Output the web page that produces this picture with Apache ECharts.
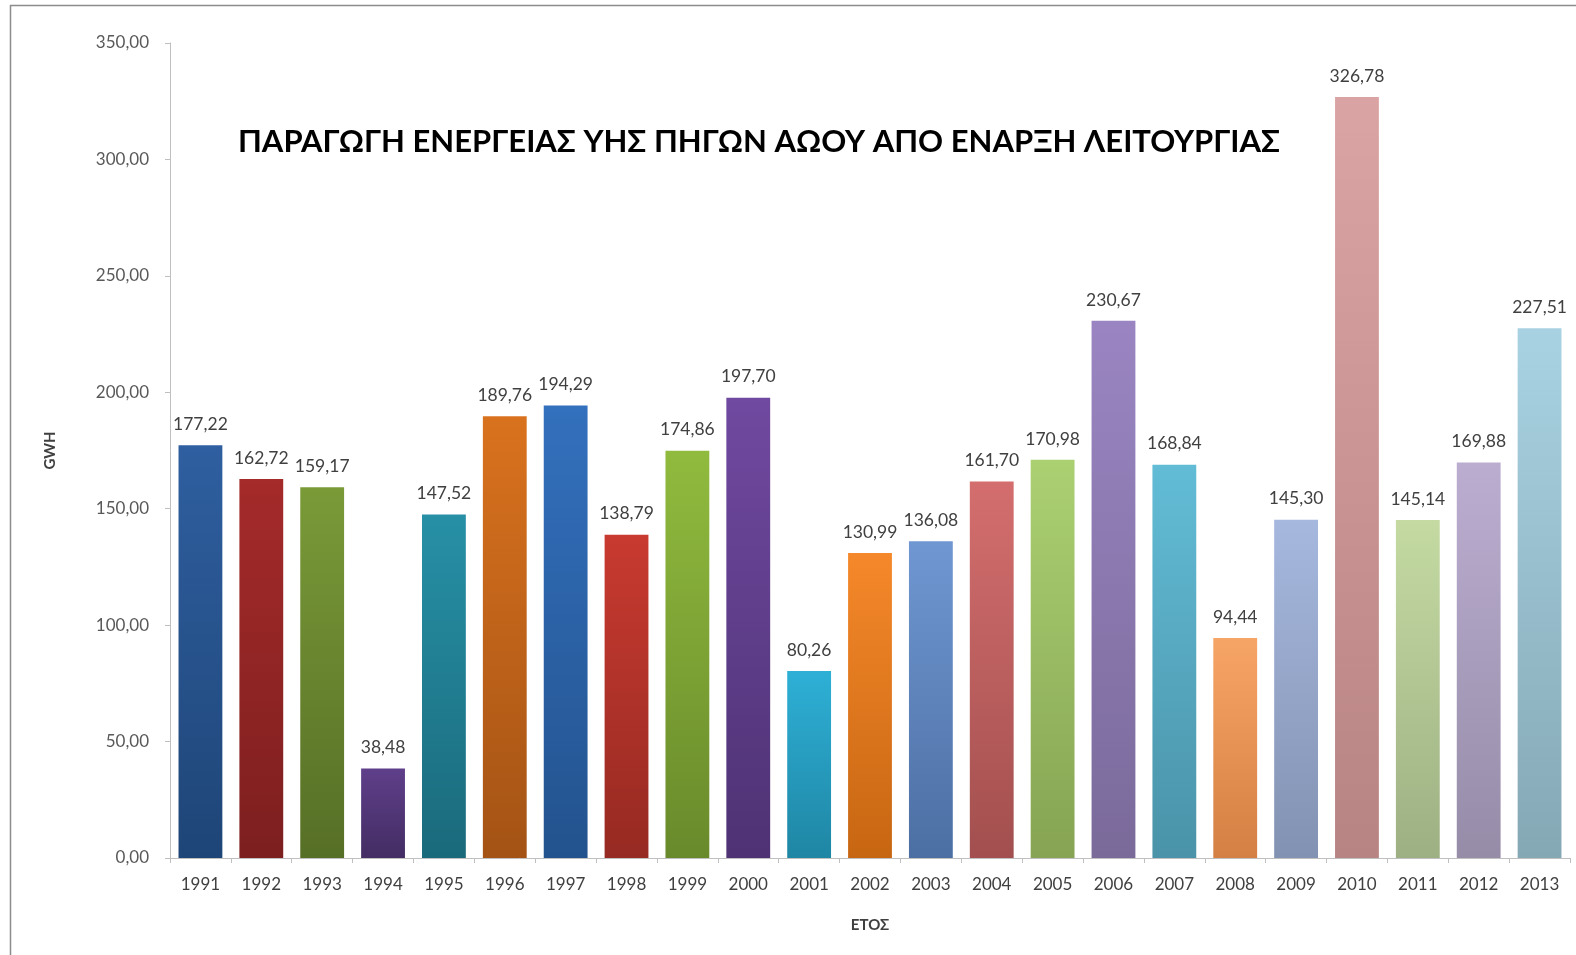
<!DOCTYPE html>
<html>
<head>
<meta charset="utf-8">
<script src="https://cdn.jsdelivr.net/npm/echarts@6/dist/echarts.min.js"></script>
<style>
html,body{margin:0;padding:0;background:#fff;}
#chart{width:1576px;height:955px;}
</style>
</head>
<body>
<div id="chart"></div>
<script>
const years = ['1991','1992','1993','1994','1995','1996','1997','1998','1999','2000','2001','2002','2003','2004','2005','2006','2007','2008','2009','2010','2011','2012','2013'];
const values = [177.22,162.72,159.17,38.48,147.52,189.76,194.29,138.79,174.86,197.70,80.26,130.99,136.08,161.70,170.98,230.67,168.84,94.44,145.30,326.78,145.14,169.88,227.51];
const topColors = ['#2f5fa0','#a52a2a','#7a9a38','#5f3f8a','#2790a6','#d9721e','#3370bd','#c83a30','#90bb3e','#7049a0','#2eb0d6','#f5882a','#7097d2','#d46e6e','#abd072','#9a85c2','#62bcd6','#f7a566','#a6b8de','#dba4a4','#c4daa2','#bbadd0','#a8d2e2'];
const bottomColors = ['#1e4577','#7d1f1f','#566f26','#432d63','#1a6a7b','#a45315','#23538e','#962a22','#698a2b','#4e3274','#1f86a4','#c76612','#4c6fa3','#a34f4f','#86a453','#7a6a9a','#4a93a8','#d47f43','#8292b2','#b88383','#9db083','#968ca8','#85a8b5'];
const yTicks = [0,50,100,150,200,250,300,350];
const titleText = 'ΠΑΡΑΓΩΓΗ ΕΝΕΡΓΕΙΑΣ ΥΗΣ ΠΗΓΩΝ ΑΩΟΥ ΑΠΟ ΕΝΑΡΞΗ ΛΕΙΤΟΥΡΓΙΑΣ';
const yName = 'GWH';
const xName = 'ΕΤΟΣ';

function fmt(v){ return v.toFixed(2).replace('.', ','); }

const chart = echarts.init(document.getElementById('chart'));
const data = values.map((v,i)=>({
  value: v,
  itemStyle: {
    color: new echarts.graphic.LinearGradient(0,0,0,1,[
      {offset:0,color:topColors[i]},
      {offset:1,color:bottomColors[i]}
    ])
  }
}));
chart.setOption({
  backgroundColor:'#ffffff',
  animation:false,
  textStyle:{fontFamily:'Lato, "Open Sans", sans-serif'},
  title:{
    text:titleText,
    left:754, top:121, textAlign:'center',
    textStyle:{fontFamily:'Lato, "Open Sans", sans-serif',fontWeight:'bold',fontSize:31,color:'#000'}
  },
  graphic:[
    {type:'line',shape:{x1:10,y1:5.5,x2:1576,y2:5.5},style:{stroke:'#8c8c8c',lineWidth:1.5}},
    {type:'line',shape:{x1:10.5,y1:5,x2:10.5,y2:955},style:{stroke:'#8c8c8c',lineWidth:1.5}}
  ],
  grid:{left:170,right:6,top:43,bottom:97,containLabel:false},
  xAxis:{
    type:'category',
    data:years,
    name:xName,
    nameLocation:'middle',
    nameGap:60,
    nameTextStyle:{fontWeight:'bold',fontSize:15,color:'#404040'},
    axisLine:{lineStyle:{color:'#bfbfbf'}},
    axisTick:{show:true,length:5,lineStyle:{color:'#bfbfbf'}},
    axisLabel:{fontSize:17,color:'#404040',margin:18}
  },
  yAxis:{
    type:'value',
    min:0,max:350,interval:50,
    name:yName,
    nameLocation:'middle',
    nameGap:112,
    nameRotate:90,
    nameTextStyle:{fontWeight:'bold',fontSize:15,color:'#404040'},
    axisLine:{show:true,lineStyle:{color:'#bfbfbf'}},
    axisTick:{show:true,length:5,lineStyle:{color:'#bfbfbf'}},
    splitLine:{show:false},
    axisLabel:{fontSize:17,color:'#595959',margin:21,formatter:function(v){return yTicks.indexOf(v)>=0?fmt(v):'';}}
  },
  series:[{
    type:'bar',
    data:data,
    barCategoryGap:'28%',
    label:{show:true,position:'top',distance:12,fontSize:17.5,color:'#404040',formatter:function(p){return fmt(p.value);}}
  }]
});
</script>
</body>
</html>
